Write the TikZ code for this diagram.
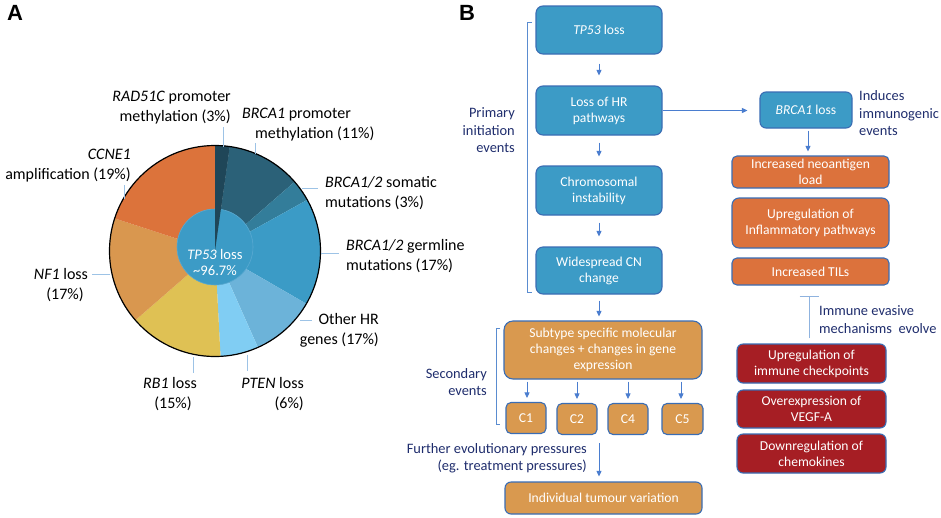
\documentclass[tikz,border=0pt]{standalone}
\usepackage{fontspec}
\setmainfont{Carlito}
\newfontfamily\letterfont{Liberation Sans}
\usetikzlibrary{arrows.meta}
\definecolor{blueF}{HTML}{3C9BC6}
\definecolor{orangeF}{HTML}{DC723C}
\definecolor{tanF}{HTML}{D9994F}
\definecolor{redF}{HTML}{A61E24}
\definecolor{bordc}{HTML}{3A6DB4}
\definecolor{navy}{HTML}{1F2D6D}
\definecolor{arrc}{HTML}{4A7DCF}
\definecolor{brkc}{HTML}{5A8CD0}
\definecolor{leadc}{HTML}{9DC3E6}
\definecolor{inhc}{HTML}{8FB3DF}
\definecolor{sA}{HTML}{1F4658}
\definecolor{sB}{HTML}{2B6178}
\definecolor{sC}{HTML}{337D9A}
\definecolor{sD}{HTML}{3B9BC6}
\definecolor{sE}{HTML}{6CB3D9}
\definecolor{sF}{HTML}{80CDF3}
\definecolor{sG}{HTML}{DFC154}
\definecolor{sH}{HTML}{D9974F}
\definecolor{sI}{HTML}{DC733B}
\begin{document}
\begin{tikzpicture}[x=1pt,y=-1pt,
  box/.style={rounded corners=7pt, draw=bordc, line width=1.1pt, text=white, align=center,
    inner sep=0pt, font=\fontsize{13.6}{16}\selectfont},
  bluebox/.style={box, fill=blueF},
  orbox/.style={box, fill=orangeF, rounded corners=5pt},
  tanbox/.style={box, fill=tanF},
  redbox/.style={box, fill=redF, rounded corners=6pt},
  arr/.style={-{Triangle[length=5.5pt,width=5pt]}, draw=arrc, line width=0.8pt},
  brk/.style={draw=brkc, line width=1pt},
  lead/.style={draw=leadc, line width=1pt},
  plab/.style={font=\fontsize{16}{20}\selectfont, inner sep=0pt},
  nlab/.style={font=\fontsize{14.4}{17.5}\selectfont, text=navy, inner sep=0pt},
  letter/.style={font=\letterfont\bfseries\fontsize{22}{22}\selectfont, inner sep=0pt}
]
\useasboundingbox (0,0) rectangle (941,517);
\fill[white] (0,0) rectangle (941,517);

% ---------- Panel A: pie ----------
\node[letter] (lA) at (15,13) {A};
\coordinate (pc) at (215,251);
\def\R{105.5}
\fill[sA] (pc) -- ++(-90:\R) arc[start angle=-90, end angle=-82, radius=\R] -- cycle;
\fill[sB] (pc) -- ++(-82:\R) arc[start angle=-82, end angle=-41, radius=\R] -- cycle;
\fill[sC] (pc) -- ++(-41:\R) arc[start angle=-41, end angle=-29, radius=\R] -- cycle;
\fill[sD] (pc) -- ++(-29:\R) arc[start angle=-29, end angle=30, radius=\R] -- cycle;
\fill[sE] (pc) -- ++(30:\R) arc[start angle=30, end angle=66, radius=\R] -- cycle;
\fill[sF] (pc) -- ++(66:\R) arc[start angle=66, end angle=87, radius=\R] -- cycle;
\fill[sG] (pc) -- ++(87:\R) arc[start angle=87, end angle=139, radius=\R] -- cycle;
\fill[sH] (pc) -- ++(139:\R) arc[start angle=139, end angle=198, radius=\R] -- cycle;
\fill[sI] (pc) -- ++(198:\R) arc[start angle=198, end angle=270, radius=\R] -- cycle;
\fill[blueF, draw=sE!60!blueF, line width=0.6pt] (215,247) circle[radius=38];
\fill[sA] (pc) -- ++(-90:\R) arc[start angle=-90, end angle=-82, radius=\R] -- cycle;
\draw[black, line width=1.2pt] (pc) circle[radius=\R];
\node[font=\fontsize{14.6}{15.5}\selectfont, text=white, align=center, inner sep=0pt] (inner) at (215,262.5) {\textit{TP53} loss\\\textasciitilde 96.7\%};

% labels
\node[plab, align=right, anchor=east] (l1) at (231,108) {\textit{RAD51C} promoter\\methylation (3\%)};
\node[plab, align=left, anchor=west] (l2) at (242,125) {\textit{BRCA1} promoter\\\hspace*{13pt}methylation (11\%)};
\node[plab, align=left, anchor=west] (l3) at (325,193) {\textit{BRCA1/2} somatic\\mutations (3\%)};
\node[plab, align=left, anchor=west] (l4) at (346,256) {\textit{BRCA1/2} germline\\mutations (17\%)};
\node[plab, align=right, anchor=east] (l5) at (379,330.5) {Other HR\\genes (17\%)};
\node[plab, align=right, anchor=east] (l6) at (304,394) {\textit{PTEN} loss\\(6\%)};
\node[plab, align=center] (l7) at (170,394) {\textit{RB1} loss\\\hspace*{6pt}(15\%)};
\node[plab, align=center] (l8) at (61,285.5) {\textit{NF1} loss\\\hspace*{8pt}(17\%)};
\node[plab, align=right, anchor=east] (l9) at (131,166) {\textit{CCNE1}\\amplification (19\%)};

\draw[lead] (223,127) -- (223,147);
\draw[lead] (255,143) -- (255,154);
\draw[lead] (302,188) -- (318,188);
\draw[lead] (321,253) -- (339,253);
\draw[lead] (300,320) -- (312,320);
\draw[lead] (247,355) -- (247,371);
\draw[lead] (193,357) -- (193,373);
\draw[lead] (92,274) -- (110,274);
\draw[lead] (124,185) -- (124,199);

% ---------- Panel B ----------
\node[letter] (lB) at (467,13) {B};

\node[bluebox, minimum width=126pt, minimum height=48pt] (tp53) at (599,30) {\textit{TP53} loss};
\node[bluebox, minimum width=126pt, minimum height=49pt] (hr) at (599,110.5) {Loss of HR\\pathways};
\node[bluebox, minimum width=126pt, minimum height=49pt] (cin) at (599,190.5) {Chromosomal\\instability};
\node[bluebox, minimum width=126pt, minimum height=47pt] (cn) at (599,270.5) {Widespread CN\\change};
\node[bluebox, minimum width=92pt, minimum height=36pt, rounded corners=6pt] (brca) at (806,110) {\textit{BRCA1} loss};

\node[orbox, minimum width=157pt, minimum height=32pt] (neo) at (810.5,172) {Increased neoantigen\\load};
\node[orbox, minimum width=157pt, minimum height=50pt, rounded corners=7pt] (infl) at (810.5,223) {Upregulation of\\Inflammatory pathways};
\node[orbox, minimum width=157pt, minimum height=27pt] (til) at (810.5,271.5) {Increased TILs};

\node[redbox, minimum width=149pt, minimum height=39pt] (chk) at (811.5,363.5) {Upregulation of\\immune checkpoints};
\node[redbox, minimum width=149pt, minimum height=38pt] (vegf) at (811.5,409) {Overexpression of\\VEGF-A};
\node[redbox, minimum width=149pt, minimum height=39pt] (chemo) at (811.5,453.5) {Downregulation of\\chemokines};

\node[tanbox, minimum width=198pt, minimum height=58pt, rounded corners=9pt] (sub) at (603,350) {Subtype specific molecular\\changes + changes in gene\\expression};
\node[tanbox, minimum width=40pt, minimum height=31pt, rounded corners=5pt] (c1) at (526,418) {C1};
\node[tanbox, minimum width=40pt, minimum height=31pt, rounded corners=5pt] (c2) at (577,419) {C2};
\node[tanbox, minimum width=40pt, minimum height=31pt, rounded corners=5pt] (c4) at (628,419) {C4};
\node[tanbox, minimum width=41pt, minimum height=31pt, rounded corners=5pt] (c5) at (682.5,419) {C5};
\node[tanbox, minimum width=197pt, minimum height=32pt, rounded corners=6pt] (ind) at (603.5,498) {Individual tumour variation};

% arrows
\draw[arr, shorten <=9pt, shorten >=10pt] (tp53.south) -- (hr.north);
\draw[arr, shorten <=7pt, shorten >=9pt] (hr.south) -- (cin.north);
\draw[arr, shorten <=7pt, shorten >=10pt] (cin.south) -- (cn.north);
\draw[arr, shorten <=6pt, shorten >=4pt] (cn.south) -- (cn.south |- sub.north);
\draw[arr, shorten >=12pt] (hr.east) -- (hr.east -| brca.west);
\coordinate (bx) at (808,0);
\draw[arr, shorten <=2pt, shorten >=4pt] (brca.south -| bx) -- (neo.north -| bx);
\foreach \c/\xx in {c1/527, c2/577, c4/628, c5/681}{
  \coordinate (t\c) at (\xx,0);
  \draw[arr, shorten <=2pt, shorten >=4pt] (sub.south -| t\c) -- (\c.north -| t\c);
}
\coordinate (fe) at (599,443);
\draw[arr, shorten >=5pt] (fe) -- (ind.north -| fe);

% inhibition
\coordinate (ib) at (809,0);
\draw[draw=inhc, line width=1pt, -{Bar[width=19pt, line width=1pt]}, shorten <=5pt, shorten >=10pt] (chk.north -| ib) -- (til.south -| ib);

% brackets
\draw[brk] (532,22) -- (527,22) -- (527,292) -- (532,292);
\draw[brk] (500,328) -- (496,328) -- (496,424) -- (500,424);

% navy labels
\node[nlab, align=right, anchor=east] (prim) at (515,130.5) {Primary\\initiation\\events};
\node[nlab, align=right, anchor=east] (sec) at (487,382) {Secondary\\events};
\node[nlab, align=right, anchor=east] (fur) at (587,458) {Further evolutionary pressures\\(eg. treatment pressures)};
\node[nlab, align=left, anchor=west] (indu) at (859,113.5) {Induces\\immunogenic\\events};
\node[nlab, align=left, anchor=west] (evas) at (819,319.5) {Immune evasive\\mechanisms\ \ evolve};
\end{tikzpicture}
\end{document}
